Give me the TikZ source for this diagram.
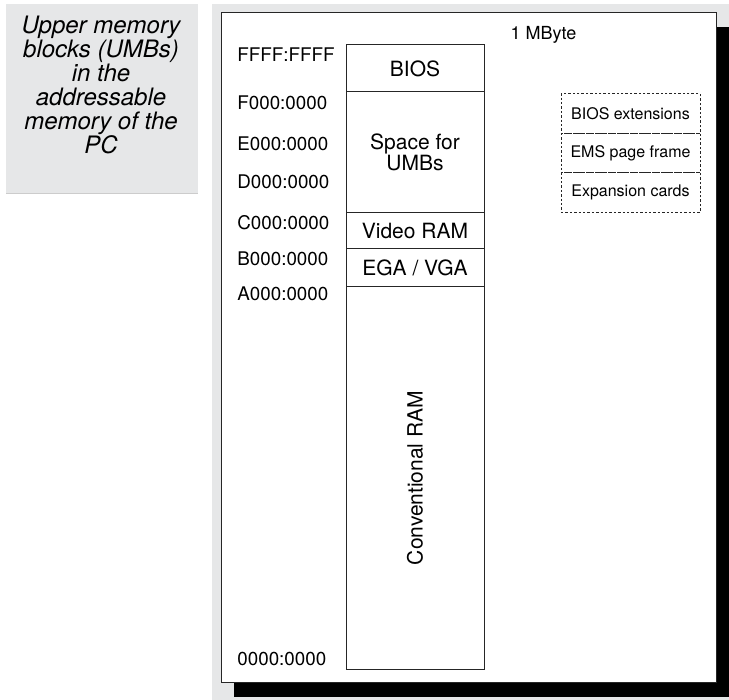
\documentclass[tikz,border=0pt]{standalone}
\usepackage{fontspec}
\setmainfont{TeX Gyre Heros}
\usetikzlibrary{positioning}
\definecolor{panelgrey}{HTML}{E6E7E8}
\tikzset{
    memory block/.style={
        draw=black!85,
        line width=0.5pt,
        fill=white,
        minimum width=69pt,
        inner sep=0pt,
        outer sep=0pt,
        align=center,
        font=\fontsize{10.5}{10.5}\selectfont
    },
    address label/.style={
        anchor=west,
        inner sep=0pt,
        font=\fontsize{9.4}{11}\selectfont
    },
    usage box/.style={
        draw=black!85,
        line width=0.5pt,
        dash pattern=on 1.2pt off 1pt,
        minimum width=69.5pt,
        minimum height=19.75pt,
        inner sep=0pt,
        outer sep=0pt,
        font=\fontsize{8}{9}\selectfont
    }
}
\begin{document}
\begin{tikzpicture}[x=0.5pt, y=-0.5pt]
                \useasboundingbox (0,0) rectangle (729,700);
                \fill[panelgrey] (6,4) rectangle (198,194);
                \draw[black!20, line width=0.5pt] (6,194) -- (198,194);
                \node[anchor=north, align=center, inner sep=0pt,
                      font=\fontsize{12}{12}\selectfont\itshape] (caption) at (101,16)
                     {Upper memory\\blocks (UMBs)\\in the\\addressable\\memory of the\\PC};
                \fill[panelgrey] (212,4) rectangle (729,700);
                \fill[black] (234,27) rectangle (729,697);
                \draw[black!85, fill=white, line width=0.5pt] (221,13) rectangle (716,682);
                \node[font=\fontsize{9}{10}\selectfont] (size) at (543.5,35) {1 MByte};
                \node[memory block, minimum height=23.5pt] (bios) at (415,68.5) {BIOS};
                \node[memory block, minimum height=60.5pt, below=0pt of bios] (umb) {Space for\\UMBs};
                \node[memory block, minimum height=18pt, below=0pt of umb] (video) {Video RAM};
                \node[memory block, minimum height=19pt, below=0pt of video] (ega) {EGA / VGA};
                \node[memory block, minimum height=191pt, below=0pt of ega] (conv) {};
                \node[rotate=90, font=\fontsize{10.5}{11}\selectfont] (convtext) at (conv) {Conventional RAM};
                \node[address label] (aFFFF) at (237,55) {FFFF:FFFF};
                \node[address label] (aF000) at (237,103) {F000:0000};
                \node[address label] (aE000) at (237,144) {E000:0000};
                \node[address label] (aD000) at (237,182) {D000:0000};
                \node[address label] (aC000) at (237,223) {C000:0000};
                \node[address label] (aB000) at (237,259) {B000:0000};
                \node[address label] (aA000) at (237,294) {A000:0000};
                \node[address label] (a0000) at (237,659) {0000:0000};
                \node[usage box] (biosext) at (630.5,113.75) {BIOS extensions};
                \node[usage box, below=0pt of biosext] (ems) {EMS page frame};
                \node[usage box, below=0pt of ems] (cards) {Expansion cards};
            \end{tikzpicture}
\end{document}
